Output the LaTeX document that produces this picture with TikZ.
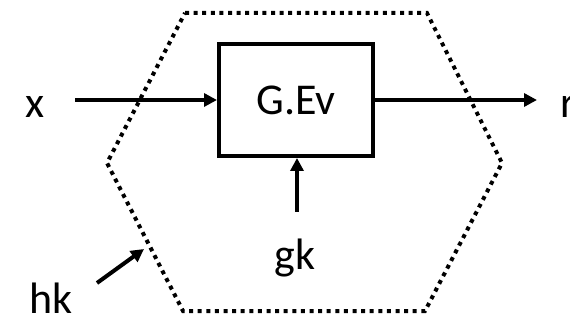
\documentclass[tikz,border=0pt]{standalone}
\usepackage{fontspec}
\setmainfont{Carlito}
\usetikzlibrary{arrows.meta}
\begin{document}
\begin{tikzpicture}[x=1pt,y=-1pt,
  lbl/.style={inner sep=0pt,font=\fontsize{44}{48}\selectfont},
  arr/.style={line width=4pt,-{Triangle[length=13pt,width=13pt]}},
  hexa/.style={line width=4pt,dash pattern=on 4pt off 4.6pt},
  blk/.style={draw,line width=4pt,minimum width=154pt,minimum height=112pt,inner sep=0pt,font=\fontsize{44}{48}\selectfont}]
\useasboundingbox (0,0) rectangle (570,320);
\draw[hexa] (185,13) -- (427,13) -- (502,163) -- (425,311) -- (183,311) -- (107,163) -- cycle;
\node[blk] (g) at (296,100) {G.Ev};
\node[lbl,anchor=base] (x) at (35,118) {x};
\node[lbl,anchor=base west] (r) at (560,118) {r};
\node[lbl,anchor=base] (gk) at (295,270) {gk};
\node[lbl,anchor=base] (hk) at (51,313) {hk};
\coordinate (xs) at (75,100);
\coordinate (re) at (537,100);
\coordinate (gks) at (297,212);
\coordinate (hks) at (97,283);
\coordinate (hke) at (144,249);
\draw[arr] (xs) -- (g.west);
\draw[arr] (g.east) -- (re);
\draw[arr] (gks) -- (gks |- g.south);
\draw[arr] (hks) -- (hke);
\end{tikzpicture}
\end{document}
